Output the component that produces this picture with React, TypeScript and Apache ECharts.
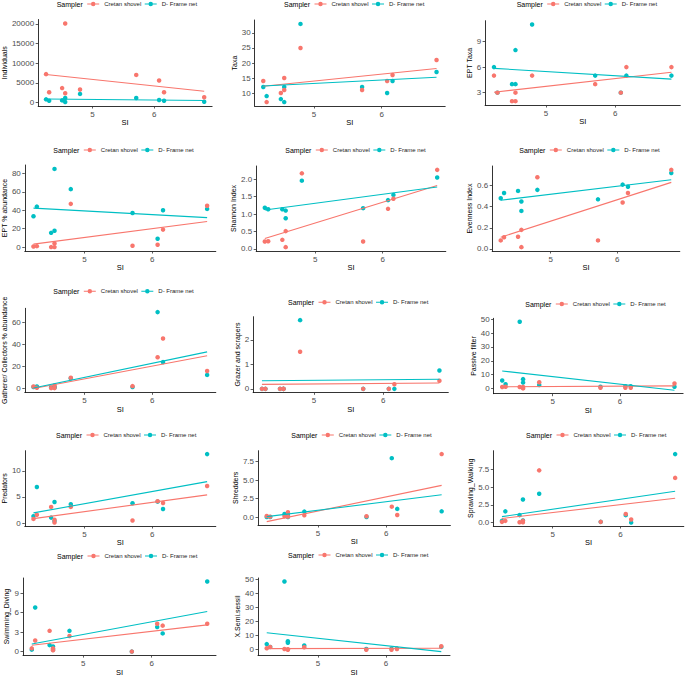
import React, { useEffect, useRef } from "react";
import * as echarts from "echarts";

// Site SI values (x)
const SI = [4.25, 4.3, 4.51, 4.56, 4.56, 4.8, 5.71, 6.08, 6.16, 6.81];

const SAMPLERS = ["Cretan shovel", "D- Frame net"];
const COLORS = ["#F8766D", "#00BFC4"];

// Series values (Cretan shovel, D- Frame net), same order as SI
const IND_C = [7200, 2600, 3650, 20100, 2350, 3300, 7000, 5560, 2600, 1300];
const IND_D = [780, 430, 520, 1130, 90, 2170, 1130, 600, 430, 170];
const TAXA_C = [14, 7, 10, 15, 11, 25, 11, 14, 16, 21];
const TAXA_D = [12, 9, 8, 12, 7, 33, 12, 10, 14, 17];
const EPT_C = [5, 3, 2, 3, 2, 5, 4, 3, 6, 6];
const EPT_D = [6, 3, 4, 8, 4, 11, 5, 3, 5, 5];
const EPTAB_C = [0.7, 1, 0, 4, 0, 47, 1.5, 2.6, 19, 45];
const EPTAB_D = [33.6, 44, 15.5, 17.7, 85, 63, 37, 9, 40, 41.5];
const SHAN_C = [0.21, 0.22, 0.26, 0.51, 0.05, 2.17, 0.21, 1.15, 1.44, 2.27];
const SHAN_D = [1.18, 1.14, 1.14, 0.88, 1.1, 1.96, 1.17, 1.4, 1.55, 2.05];
const EVEN_C = [0.08, 0.11, 0.115, 0.18, 0.016, 0.68, 0.08, 0.44, 0.53, 0.75];
const EVEN_D = [0.48, 0.53, 0.55, 0.45, 0.36, 0.56, 0.47, 0.61, 0.59, 0.72];
const GATH_C = [1.5, 0.3, 0, 2.4, 0, 9.4, 1.8, 28, 45, 15.5];
const GATH_D = [1, 1.5, 0.5, 1, 0.5, 9, 1, 69, 23.6, 12];
const GRAZ_C = [0, 0, 0, 0, 0, 1.51, 0, 0, 0.19, 0.33];
const GRAZ_D = [0, 0, 0, 0, 0, 2.8, 0, 0, 0, 0.75];
const PASS_C = [1, 1.2, 1, 1, 0, 4.5, 0.5, 0.5, 0.5, 3.5];
const PASS_D = [5.7, 3, 48.3, 6.7, 4.2, 2.5, 1.2, 1.5, 1.5, 1.2];
const PRED_C = [0.8, 1.6, 3.1, 0.65, 0.1, 3.1, 0.5, 4.2, 3.85, 7.1];
const PRED_D = [1.3, 6.9, 1.05, 4.05, 0.4, 3.6, 3.8, 4.1, 2.7, 13.2];
const SHRED_C = [0.14, 0.05, 0.1, 0.64, 0.05, 0.23, 0.1, 1.4, 0.27, 8.5];
const SHRED_D = [0, 0, 0.4, 0.2, 0, 0.73, 0, 7.95, 1.1, 0.77];
const SPRAWL_C = [0.1, 0.24, 0.05, 0.24, 0.05, 7.36, 0.1, 1.2, 0.43, 6.3];
const SPRAWL_D = [0.24, 1.58, 1.05, 3.25, 0.3, 4.06, 0.1, 1.05, 0, 9.65];
const SWIM_C = [0.5, 1.7, 3.2, 0.5, 0.2, 2.4, 0, 4.3, 4.0, 4.3];
const SWIM_D = [0.3, 6.8, 1.0, 0.8, 0.3, 3.2, 0, 3.8, 2.8, 10.8];
const SEMI_C = [1, 2, 0.5, 0.3, 0, 1.8, 0, 0, 0.5, 2.5];
const SEMI_D = [4, 2, 48.5, 6, 5, 3, 0.5, 0.8, 0.8, 2];

// Tick labels
const X_TICKS = [5, 6];
const T_IND = [0, 5000, 10000, 15000, 20000];
const T_TAXA = [10, 15, 20, 25, 30];
const T_EPT = [3, 6, 9];
const T_EPTAB = [0, 20, 40, 60, 80];
const T_SHAN = [0, 0.5, 1, 1.5, 2];
const T_EVEN = [0, 0.2, 0.4, 0.6];
const T_GATH = [0, 20, 40, 60];
const T_GRAZ = [0, 1, 2];
const T_PASS = [0, 10, 20, 30, 40, 50];
const T_PRED = [0, 5, 10];
const T_SHRED = [0, 2.5, 5, 7.5];
const T_SPRAWL = [0, 2.5, 5, 7.5];
const T_SWIM = [0, 3, 6, 9];
const T_SEMI = [0, 10, 20, 30, 40, 50];

const PANELS = [
  { name: "Individuals", c: IND_C, d: IND_D, ticks: T_IND, dec: 0 },
  { name: "Taxa", c: TAXA_C, d: TAXA_D, ticks: T_TAXA, dec: 0 },
  { name: "EPT Taxa", c: EPT_C, d: EPT_D, ticks: T_EPT, dec: 0 },
  { name: "EPT % abundance", c: EPTAB_C, d: EPTAB_D, ticks: T_EPTAB, dec: 0 },
  { name: "Shannon Index", c: SHAN_C, d: SHAN_D, ticks: T_SHAN, dec: 1 },
  { name: "Evenness Index", c: EVEN_C, d: EVEN_D, ticks: T_EVEN, dec: 1 },
  { name: "Gatherer/ Collectors % abundance", c: GATH_C, d: GATH_D, ticks: T_GATH, dec: 0 },
  { name: "Grazer and scrapers", c: GRAZ_C, d: GRAZ_D, ticks: T_GRAZ, dec: 0 },
  { name: "Passive filter", c: PASS_C, d: PASS_D, ticks: T_PASS, dec: 0 },
  { name: "Predators", c: PRED_C, d: PRED_D, ticks: T_PRED, dec: 0 },
  { name: "Shredders", c: SHRED_C, d: SHRED_D, ticks: T_SHRED, dec: 1 },
  { name: "Sprawling_Walking", c: SPRAWL_C, d: SPRAWL_D, ticks: T_SPRAWL, dec: 1 },
  { name: "Swimming_Diving", c: SWIM_C, d: SWIM_D, ticks: T_SWIM, dec: 0 },
  { name: "X.Semi.sessil", c: SEMI_C, d: SEMI_D, ticks: T_SEMI, dec: 0 },
];

// Layout (pixels): panel left/right/top/bottom, y-name centre x, x-name centre y, legend centre y, "Sampler" x
const LAYOUT = [
  { l: 33.7, r: 212.1, t: 19.5, b: 106, nx: 5.5, sy: 121.7, ly: 5, sx: 56.7 },
  { l: 254.6, r: 445.2, t: 20, b: 106, nx: 239.3, sy: 121.7, ly: 5, sx: 284 },
  { l: 485.1, r: 680.3, t: 20.7, b: 105, nx: 472, sy: 121.7, ly: 5, sx: 516.7 },
  { l: 23.3, r: 215.8, t: 165, b: 251, nx: 6.7, sy: 266.7, ly: 151, sx: 53.3 },
  { l: 256.2, r: 445.8, t: 166, b: 251, nx: 237.2, sy: 266.7, ly: 151, sx: 285.3 },
  { l: 492.2, r: 679.8, t: 166, b: 251, nx: 471.8, sy: 266.7, ly: 151, sx: 519.3 },
  { l: 23.3, r: 215.8, t: 308.3, b: 392.3, nx: 6.7, sy: 403, ly: 292.3, sx: 53.3 },
  { l: 253.1, r: 448.3, t: 316.7, b: 392.3, nx: 240, sy: 407.7, ly: 303.3, sx: 288 },
  { l: 493.6, r: 683.1, t: 318.3, b: 393.7, nx: 476, sy: 410, ly: 305, sx: 525.3 },
  { l: 23.3, r: 215.8, t: 450.7, b: 526, nx: 6.3, sy: 538.3, ly: 436, sx: 56 },
  { l: 258, r: 450.4, t: 450.7, b: 525, nx: 240, sy: 540, ly: 436, sx: 291.3 },
  { l: 493.3, r: 683.8, t: 450.7, b: 526, nx: 476.3, sy: 539.3, ly: 436, sx: 526 },
  { l: 23, r: 216, t: 578, b: 656, nx: 6, sy: 671, ly: 557, sx: 57 },
  { l: 258, r: 450, t: 578, b: 656, nx: 239, sy: 671, ly: 556, sx: 288 },
];

const FONT = "'Liberation Sans', Arial, Helvetica, sans-serif";
const ICON =
  "path://M0,3.5 H24 V5.5 H0 Z M7.5,4.5 A4.5,4.5 0 1,1 16.5,4.5 A4.5,4.5 0 1,1 7.5,4.5 Z";

function lmFit(xs: number[], ys: (number | null)[]) {
  const pts = xs
    .map((x, i) => [x, ys[i]] as [number, number | null])
    .filter((p) => p[1] != null) as [number, number][];
  const n = pts.length;
  const mx = pts.reduce((s, p) => s + p[0], 0) / n;
  const my = pts.reduce((s, p) => s + p[1], 0) / n;
  let sxx = 0;
  let sxy = 0;
  pts.forEach((p) => {
    sxx += (p[0] - mx) * (p[0] - mx);
    sxy += (p[0] - mx) * (p[1] - my);
  });
  const b = sxy / sxx;
  const a = my - b * mx;
  const x0 = Math.min(...pts.map((p) => p[0]));
  const x1 = Math.max(...pts.map((p) => p[0]));
  return [
    [x0, a + b * x0],
    [x1, a + b * x1],
  ];
}

function expand(vals: number[]) {
  const lo = Math.min(...vals);
  const hi = Math.max(...vals);
  const pad = (hi - lo) * 0.05;
  return [lo - pad, hi + pad];
}

function buildOption() {
  const [xMin, xMax] = expand(SI);
  const grid: any[] = [];
  const xAxis: any[] = [];
  const yAxis: any[] = [];
  const series: any[] = [];
  const legend: any[] = [];
  const title: any[] = [];

  PANELS.forEach((p, i) => {
    const g = LAYOUT[i];
    const fitC = lmFit(SI, p.c);
    const fitD = lmFit(SI, p.d);
    const allY = [
      ...p.c.filter((v) => v != null),
      ...p.d.filter((v) => v != null),
      fitC[0][1],
      fitC[1][1],
      fitD[0][1],
      fitD[1][1],
    ] as number[];
    const [yMin, yMax] = expand(allY);

    grid.push({ left: g.l, top: g.t, width: g.r - g.l, height: g.b - g.t, containLabel: false });
    xAxis.push({
      gridIndex: i,
      type: "value",
      min: xMin,
      max: xMax,
      name: "SI",
      nameLocation: "middle",
      nameGap: g.sy - g.b - 4,
      nameTextStyle: { fontSize: 7.5, color: "#000", fontFamily: FONT },
      axisLine: { show: true, onZero: false, lineStyle: { color: "#000", width: 0.8 } },
      axisTick: { show: true, length: 2.5, customValues: X_TICKS, lineStyle: { color: "#333", width: 0.8 } },
      axisLabel: { customValues: X_TICKS, fontSize: 8, color: "#4D4D4D", margin: 4, fontFamily: FONT },
      splitLine: { show: false },
    });
    yAxis.push({
      gridIndex: i,
      type: "value",
      min: yMin,
      max: yMax,
      name: p.name,
      nameLocation: "middle",
      nameRotate: 90,
      nameGap: g.l - g.nx - 3.5,
      nameTextStyle: { fontSize: 7, color: "#000", fontFamily: FONT },
      axisLine: { show: true, onZero: false, lineStyle: { color: "#000", width: 0.8 } },
      axisTick: { show: true, length: 2.5, customValues: p.ticks, lineStyle: { color: "#333", width: 0.8 } },
      axisLabel: {
        customValues: p.ticks,
        fontSize: 8,
        color: "#4D4D4D",
        margin: 4,
        fontFamily: FONT,
        formatter: (v: number) => Number(v).toFixed(p.dec),
      },
      splitLine: { show: false },
    });

    series.push({
      type: "scatter",
      name: SAMPLERS[1],
      xAxisIndex: i,
      yAxisIndex: i,
      data: SI.map((x, k) => [x, p.d[k]]),
      symbolSize: 4.5,
      itemStyle: { color: COLORS[1], opacity: 1 },
      z: 2,
    });
    series.push({
      type: "scatter",
      name: SAMPLERS[0],
      xAxisIndex: i,
      yAxisIndex: i,
      data: SI.map((x, k) => [x, p.c[k]]),
      symbolSize: 4.5,
      itemStyle: { color: COLORS[0], opacity: 1 },
      z: 3,
    });
    series.push({
      type: "line",
      name: SAMPLERS[0],
      xAxisIndex: i,
      yAxisIndex: i,
      data: fitC,
      showSymbol: false,
      symbol: "none",
      lineStyle: { color: COLORS[0], width: 1.1 },
      itemStyle: { color: COLORS[0] },
      z: 4,
    });
    series.push({
      type: "line",
      name: SAMPLERS[1],
      xAxisIndex: i,
      yAxisIndex: i,
      data: fitD,
      showSymbol: false,
      symbol: "none",
      lineStyle: { color: COLORS[1], width: 1.1 },
      itemStyle: { color: COLORS[1] },
      z: 5,
    });

    legend.push({
      left: g.sx + 30.5,
      top: g.ly - 4,
      orient: "horizontal",
      padding: 0,
      itemWidth: 12,
      itemHeight: 4.5,
      itemGap: 3.5,
      icon: ICON,
      selectedMode: false,
      data: SAMPLERS,
      textStyle: { fontSize: 6, color: "#222", fontFamily: FONT },
    });
    title.push({
      text: "Sampler",
      left: g.sx,
      top: g.ly - 4.5,
      padding: 0,
      textStyle: { fontSize: 7, fontWeight: "normal", color: "#000", fontFamily: FONT },
    });
  });

  return {
    animation: false,
    backgroundColor: "#ffffff",
    textStyle: { fontFamily: FONT },
    title,
    legend,
    grid,
    xAxis,
    yAxis,
    series,
  };
}

export default function App() {
  const ref = useRef<HTMLDivElement>(null);
  useEffect(() => {
    if (!ref.current) return;
    const chart = echarts.init(ref.current, undefined, { renderer: "svg" });
    chart.setOption(buildOption() as any);
    return () => chart.dispose();
  }, []);
  return (
    <div
      ref={ref}
      style={{ position: "absolute", left: 0, top: 0, width: 685, height: 677, background: "#fff" }}
    />
  );
}
